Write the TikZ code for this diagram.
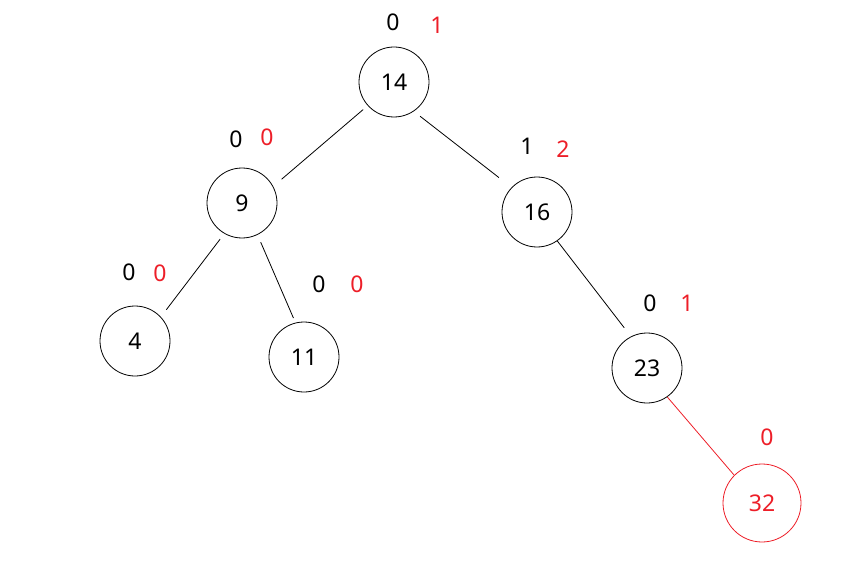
\documentclass[tikz,border=0pt]{standalone}
\usepackage{fontspec}
\setmainfont{Noto Sans}
\definecolor{hred}{RGB}{237,30,40}
\begin{document}
\begin{tikzpicture}[x=1pt, y=-1pt, line width=0.8pt,
		every node/.style={font=\fontsize{23}{26}\selectfont},
		knoten/.style={circle, draw, minimum size=70pt, inner sep=0pt},
		hgt/.style={text=black},
		bal/.style={text=hred}]
	% 0. Bildrahmen
	\useasboundingbox (0,0) rectangle (864,580);
	
	% 1. Knoten des Baums
	\node[knoten] (n14) at (394,82) {14};
	\node[knoten] (n9)  at (242,203) {9};
	\node[knoten] (n16) at (537,212) {16};
	\node[knoten] (n4)  at (135,341) {4};
	\node[knoten] (n11) at (304,357) {11};
	\node[knoten] (n23) at (647,368) {23};
	\node[knoten, draw=hred, text=hred, minimum size=78pt] (n32) at (762,503) {32};
	
	% 2. Kanten (mit kleinem Abstand zum Kreis)
	\draw[shorten <=6pt, shorten >=11pt] (n14.222) -- (n9.28);
	\draw[shorten <=8pt, shorten >=16pt] (n14.304) -- (n16.136);
	\draw[shorten <=7pt, shorten >=9pt] (n9.240) -- (n4.43);
	\draw[shorten <=8pt, shorten >=5pt] (n9.296) -- (n11.104);
	\draw[shorten >=11pt] (n16.305) -- (n23.117);
	\draw[hred] (n23.305) -- (n32.135);
	
	% 3. Hoehe (schwarz) und Balance (rot)
	\node[hgt] (h14) at (393,22) {0};  \node[bal] (b14) at (437,25) {1};
	\node[hgt] (h9)  at (236,139) {0}; \node[bal] (b9)  at (267,137) {0};
	\node[hgt] (h16) at (527,146) {1}; \node[bal] (b16) at (563,149) {2};
	\node[hgt] (h4)  at (129,272) {0}; \node[bal] (b4)  at (160,273) {0};
	\node[hgt] (h11) at (319,284) {0}; \node[bal] (b11) at (357,284) {0};
	\node[hgt] (h23) at (650,303) {0}; \node[bal] (b23) at (687,303) {1};
	\node[bal] (b32) at (767,437) {0};
\end{tikzpicture}
\end{document}
